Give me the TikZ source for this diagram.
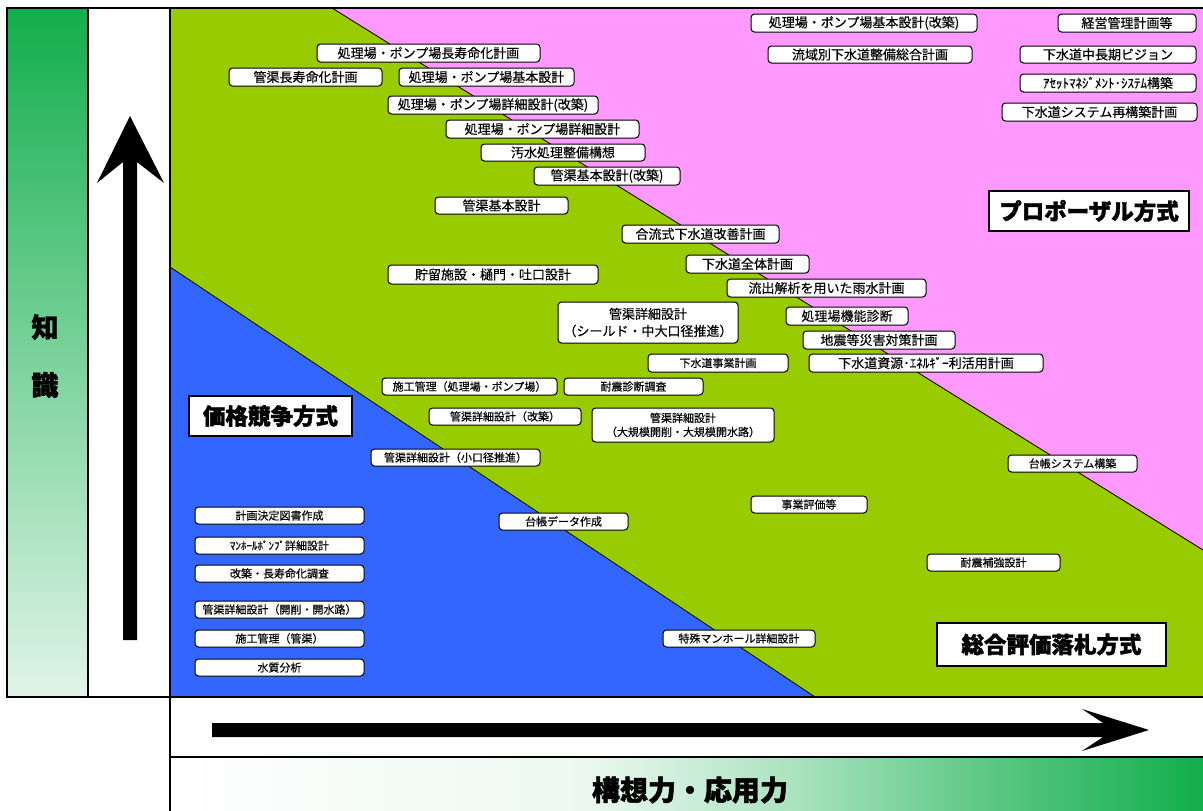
\documentclass[tikz,border=0pt]{standalone}
\usepackage{fontspec}
\setmainfont{Noto Sans CJK JP}[FakeBold=0.35, BoldFeatures={FakeBold=1.6}]
\definecolor{gr}{HTML}{99CC00}
\definecolor{pk}{HTML}{FF99FF}
\definecolor{bl}{HTML}{3366FF}
\definecolor{dg}{RGB}{18,174,76}
\pgfdeclarehorizontalshading{bottomsh}{100bp}{color(0bp)=(white); color(25bp)=(white); color(45bp)=(dg!8); color(55bp)=(dg!35); color(65bp)=(dg!70); color(75bp)=(dg); color(100bp)=(dg)}
\newcommand\jbox[7]{\node[#1, minimum width={#5pt-#3pt}, minimum height={#6pt-#4pt}] (#2) at ({(#3+#5)/2},{(#4+#6)/2}) {#7};}
\begin{document}
\begin{tikzpicture}[x=1pt,y=-1pt,
  bx/.style={draw=black, line width=1pt, fill=white, rounded corners=3.5pt, inner sep=0pt, font=\fontsize{13}{15}\selectfont},
  sbx/.style={bx, font=\fontsize{11}{13}\selectfont},
  big/.style={draw=black, line width=1.2pt, fill=white, inner sep=0pt, font=\bfseries\fontsize{22.5}{24}\selectfont},
  frame/.style={draw=black, line width=2pt},
  edge/.style={draw=black, line width=0.8pt},
  axl/.style={font=\bfseries\fontsize{27}{29}\selectfont, inner sep=0pt}]
\useasboundingbox (0,0) rectangle (1203,811);
\fill[white] (0,0) rectangle (1203,811);
% regions
\shade[top color=dg, bottom color=dg!13] (7,8) rectangle (88,697);
\fill[gr] (170,8) rectangle (1203,697);
\fill[pk] (332,8) -- (1203,550) -- (1203,8) -- cycle;
\fill[bl] (170,267) -- (815,697) -- (170,697) -- cycle;
\draw[edge] (332,8) -- (1203,550);
\draw[edge] (170,267) -- (815,697);
\shade[shading=bottomsh] (170,757) rectangle (1203,811);
% frame lines
\draw[frame] (7,697) -- (7,8) -- (1203,8);
\draw[frame] (88,8) -- (88,697);
\draw[frame] (170,8) -- (170,811);
\draw[frame] (6,697) -- (1203,697);
\draw[frame, line width=2.5pt] (170,757) -- (1203,757);
% arrows
\fill[black] (123,640) -- (123,162) -- (97,183) -- (130,116) -- (164,183) -- (137,162) -- (137,640) -- cycle;
\fill[black] (212,723) -- (1103,723) -- (1082,709) -- (1149,730) -- (1082,751) -- (1103,737) -- (212,737) -- cycle;
% axis labels
\node[axl] (chi) at (45,327) {知};
\node[axl] (shiki) at (45,385) {識};
\node[axl, font=\bfseries\fontsize{28}{30}\selectfont] (kousou) at (690,790) {構想力・応用力};
% boxes
\jbox{bx}{b1}{317}{44}{540}{62}{処理場・ポンプ場長寿命化計画}
\jbox{bx}{b2}{229}{68}{382}{86}{管渠長寿命化計画}
\jbox{bx}{b3}{399}{68}{574}{86}{処理場・ポンプ場基本設計}
\jbox{bx}{b4}{388}{96}{598}{114}{処理場・ポンプ場詳細設計(改築)}
\jbox{bx}{b5}{446}{120}{639}{138}{処理場・ポンプ場詳細設計}
\jbox{bx}{b6}{481}{144}{645}{161}{汚水処理整備構想}
\jbox{bx}{b7}{534}{167}{680}{185}{管渠基本設計(改築)}
\jbox{bx}{b8}{435}{197}{568}{214}{管渠基本設計}
\jbox{bx}{b9}{622}{225}{779}{243}{合流式下水道改善計画}
\jbox{bx}{b10}{686}{255}{809}{273}{下水道全体計画}
\jbox{bx}{b11}{727}{279}{926}{297}{流出解析を用いた雨水計画}
\jbox{bx}{b12}{388}{265}{598}{284}{貯留施設・樋門・吐口設計}
\jbox{bx,align=center,font=\fontsize{13}{17}\selectfont}{b13}{558}{302}{738}{343}{管渠詳細設計\\（シールド・中大口径推進）}
\jbox{bx}{b14}{786}{307}{908}{325}{処理場機能診断}
\jbox{bx}{b15}{803}{331}{955}{349}{地震等災害対策計画}
\jbox{sbx}{b16}{648}{354}{788}{372}{下水道事業計画}
\jbox{bx}{b17}{809}{354}{1043}{372}{下水道資源･ｴﾈﾙｷﾞｰ利活用計画}
\jbox{sbx}{b18}{382}{378}{557}{395}{施工管理（処理場・ポンプ場）}
\jbox{sbx}{b19}{564}{378}{703}{395}{耐震診断調査}
\jbox{sbx}{b20}{429}{408}{581}{425}{管渠詳細設計（改築）}
\jbox{sbx,align=center,font=\fontsize{11}{14}\selectfont}{b21}{592}{408}{774}{442}{管渠詳細設計\\（大規模開削・大規模開水路）}
\jbox{sbx}{b22}{371}{449}{540}{466}{管渠詳細設計（小口径推進）}
\jbox{sbx}{b23}{499}{513}{628}{530}{台帳データ作成}
\jbox{sbx}{b24}{751}{496}{867}{513}{事業評価等}
\jbox{sbx}{b25}{1008}{455}{1137}{472}{台帳システム構築}
\jbox{sbx}{b26}{927}{554}{1060}{571}{耐震補強設計}
\jbox{sbx}{b27}{663}{630}{815}{647}{特殊マンホール詳細設計}
\jbox{bx}{b29}{751}{14}{977}{32}{処理場・ポンプ場基本設計(改築)}
\jbox{bx}{b30}{768}{46}{972}{63}{流域別下水道整備総合計画}
\jbox{bx}{b31}{1058}{14}{1196}{32}{経営管理計画等}
\jbox{bx}{b32}{1020}{46}{1196}{63}{下水道中長期ビジョン}
\jbox{bx}{b33}{1020}{74}{1196}{92}{ｱｾｯﾄﾏﾈｼﾞﾒﾝﾄ･ｼｽﾃﾑ構築}
\jbox{bx}{b34}{1002}{103}{1197}{121}{下水道システム再構築計画}
\jbox{sbx}{b37}{195}{507}{364}{524}{計画決定図書作成}
\jbox{sbx}{b38}{195}{537}{364}{554}{ﾏﾝﾎｰﾙﾎﾟﾝﾌﾟ詳細設計}
\jbox{sbx}{b39}{195}{565}{364}{582}{改築・長寿命化調査}
\jbox{sbx}{b40}{195}{601}{364}{618}{管渠詳細設計（開削・開水路）}
\jbox{sbx}{b41}{195}{630}{364}{647}{施工管理（管渠）}
\jbox{sbx}{b42}{195}{659}{364}{676}{水質分析}
% method labels
\jbox{big}{m1}{189}{396}{352}{436}{価格競争方式}
\jbox{big}{m2}{989}{191}{1189}{231}{プロポーザル方式}
\jbox{big}{m3}{937}{623}{1166}{666}{総合評価落札方式}
\end{tikzpicture}
\end{document}
